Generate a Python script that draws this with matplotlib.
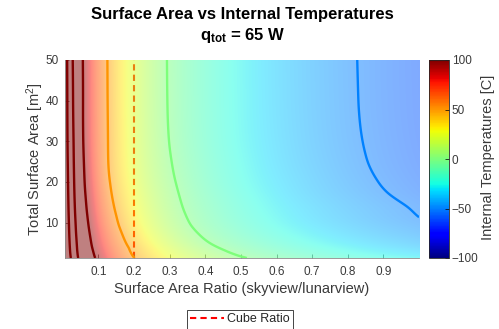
import numpy as np
import matplotlib
matplotlib.use('Agg')
import matplotlib.pyplot as plt
import matplotlib.tri as mtri
from matplotlib.colors import Normalize
from matplotlib.cm import ScalarMappable

plt.rcParams['font.family'] = ['Liberation Sans', 'DejaVu Sans']
plt.rcParams['mathtext.fontset'] = 'custom'
plt.rcParams['mathtext.rm'] = 'Liberation Sans'
plt.rcParams['mathtext.bf'] = 'Liberation Sans:bold'
plt.rcParams['mathtext.it'] = 'Liberation Sans:italic'

# ---------------- data ----------------
# surface area ratio (skyview / lunarview) -- columns
ratios = [0.006, 0.01, 0.015, 0.02, 0.03, 0.04, 0.05, 0.065, 0.08, 0.1, 0.125, 0.15,
          0.18, 0.22, 0.27, 0.33, 0.4, 0.5, 0.6, 0.7, 0.8, 0.9, 1.0]
# total surface area [m^2] -- rows
areas = [1.3, 2, 3, 4, 5.5, 7, 9, 11.5, 14, 17, 20, 25, 30, 40, 50]
# internal temperature [C] for each (area row, ratio column)
temps = [
    [321.1, 271.0, 234.3, 209.7, 177.1, 155.3, 139.4, 121.7, 108.2, 93.7, 79.1, 67.7, 56.6, 44.9, 33.5, 22.7, 12.7, 1.5, -6.6, -13.3, -18.9, -23.7, -28.0],
    [311.2, 263.6, 228.5, 205.0, 173.8, 152.9, 137.3, 119.7, 106.2, 91.7, 77.2, 65.7, 54.7, 42.9, 31.2, 20.3, 10.1, -1.1, -9.4, -16.3, -22.0, -27.0, -31.4],
    [302.7, 257.1, 223.5, 201.0, 170.9, 150.8, 135.1, 117.4, 103.9, 89.3, 75.0, 63.7, 52.8, 40.8, 28.8, 17.5, 7.1, -4.2, -12.7, -19.6, -25.5, -30.5, -35.0],
    [297.0, 252.8, 220.2, 198.3, 169.0, 149.3, 133.3, 115.3, 101.6, 87.0, 73.0, 61.9, 51.2, 38.8, 26.5, 14.9, 4.2, -7.0, -15.6, -22.6, -28.5, -33.7, -38.2],
    [290.8, 248.1, 216.4, 195.2, 166.7, 147.3, 131.1, 112.8, 98.9, 84.2, 70.2, 59.1, 48.1, 35.4, 23.0, 11.3, 0.5, -10.5, -19.1, -26.2, -32.2, -37.3, -41.9],
    [286.1, 244.3, 213.3, 192.5, 164.6, 145.2, 128.9, 110.5, 96.5, 81.8, 67.7, 56.7, 45.4, 32.7, 20.2, 8.4, -2.2, -13.3, -21.9, -29.0, -35.0, -40.2, -44.7],
    [281.3, 240.4, 210.2, 189.8, 162.5, 142.8, 126.2, 107.5, 93.3, 78.6, 64.5, 53.4, 41.9, 29.2, 16.8, 5.2, -5.1, -16.1, -24.8, -31.9, -37.9, -43.1, -47.6],
    [275.8, 236.0, 206.5, 186.6, 160.0, 139.9, 123.0, 104.1, 89.9, 75.2, 61.2, 50.2, 38.6, 26.2, 14.1, 2.7, -7.4, -18.5, -27.2, -34.4, -40.4, -45.6, -50.1],
    [271.0, 232.1, 203.3, 183.8, 157.7, 137.2, 120.2, 101.1, 87.0, 72.4, 58.5, 47.3, 35.9, 23.9, 12.0, 0.9, -9.0, -20.1, -28.8, -35.9, -41.9, -47.0, -51.5],
    [266.4, 228.5, 200.2, 181.2, 155.6, 134.4, 117.2, 98.1, 84.1, 69.6, 55.7, 44.5, 33.5, 21.7, 10.2, -0.7, -10.7, -21.9, -30.7, -38.0, -44.0, -49.2, -53.8],
    [262.7, 225.5, 197.7, 179.0, 153.9, 132.0, 114.7, 95.6, 81.7, 67.2, 53.4, 42.3, 31.4, 19.8, 8.5, -2.2, -12.3, -23.5, -32.2, -39.4, -45.5, -50.7, -55.3],
    [256.4, 220.6, 194.0, 175.9, 151.7, 129.1, 112.0, 93.1, 79.2, 64.9, 51.2, 40.1, 29.3, 17.8, 6.6, -4.1, -14.0, -25.1, -33.9, -41.0, -47.0, -52.2, -56.7],
    [251.5, 216.9, 191.0, 173.5, 150.0, 126.8, 109.7, 91.3, 77.9, 64.1, 50.8, 39.5, 28.5, 16.8, 5.4, -5.4, -15.2, -26.2, -34.8, -41.9, -47.8, -52.9, -57.4],
    [247.9, 213.8, 188.3, 171.1, 146.9, 124.9, 108.6, 90.6, 77.3, 63.5, 50.3, 38.8, 27.7, 16.0, 4.5, -6.2, -16.0, -26.9, -35.5, -42.5, -48.4, -53.5, -57.9],
    [245.3, 211.5, 186.3, 169.2, 144.7, 123.5, 107.8, 90.2, 76.9, 63.2, 50.0, 38.5, 27.5, 15.8, 4.3, -6.4, -16.2, -27.1, -35.7, -42.7, -48.6, -53.6, -58.1],
]
contour_levels = [-50, 0, 50, 100, 150, 200]
cube_ratio = 0.2
clim = (-100, 100)
cbar_ticks = [-100, -50, 0, 50, 100]
x_ticks = [0.1, 0.2, 0.3, 0.4, 0.5, 0.6, 0.7, 0.8, 0.9]
y_ticks = [10, 20, 30, 40, 50]

title_line1 = "Surface Area vs Internal Temperatures"
title_line2 = r"$\mathbf{q}_{\mathbf{tot}}$ = 65 W"
x_label = "Surface Area Ratio (skyview/lunarview)"
y_label = r"Total Surface Area [m$^{2}$]"
cbar_label = "Internal Temperatures [C]"
legend_label = "Cube Ratio"

# ---------------- figure ----------------
W, H = 499, 329
fig = plt.figure(figsize=(W / 100, H / 100), dpi=100)
ax = fig.add_axes([65 / W, 1 - 258 / H, (419 - 65) / W, (258 - 60) / H])
cax = fig.add_axes([429 / W, 1 - 258 / H, 20 / W, (258 - 60) / H])

norm = Normalize(vmin=clim[0], vmax=clim[1])
cmap = plt.get_cmap('jet')

# smooth field through matplotlib's cubic triangular interpolator (log-log space)
LX, LA = np.meshgrid(np.log(ratios), np.log(areas))
tri = mtri.Triangulation(LX.ravel(), LA.ravel())
interp = mtri.CubicTriInterpolator(tri, np.asarray(temps, float).ravel(), kind='min_E')

ylim = (areas[0], areas[-1])
xlim = (ratios[0], ratios[-1])
gx = np.linspace(xlim[0], xlim[1], 700)
gy = np.linspace(ylim[0], ylim[1], 450)
GX, GY = np.meshgrid(gx, gy)
eps = 1e-9
qx = np.clip(np.log(GX), np.log(ratios[0]) + eps, np.log(ratios[-1]) - eps)
qy = np.clip(np.log(GY), np.log(areas[0]) + eps, np.log(areas[-1]) - eps)
Z = interp(qx, qy)

# cube-ratio line (sits under the translucent surface, as in the reference)
cube_line, = ax.plot([cube_ratio, cube_ratio], [ylim[0], ylim[1]], color='red',
                     linestyle=(0, (3, 2)), linewidth=1.5, zorder=1)

ax.imshow(Z, extent=[gx[0], gx[-1], gy[0], gy[-1]], origin='lower', aspect='auto',
          cmap=cmap, norm=norm, alpha=0.5, interpolation='bilinear', zorder=2)
ax.contour(GX, GY, Z, levels=contour_levels, cmap=cmap, norm=norm,
           linewidths=1.7, zorder=3)

ax.set_xlim(*xlim)
ax.set_ylim(*ylim)
ax.set_xticks(x_ticks)
ax.set_xticklabels([f"{t:g}" for t in x_ticks])
ax.set_yticks(y_ticks)
for s in ['top', 'right']:
    ax.spines[s].set_visible(False)
for s in ['left', 'bottom']:
    ax.spines[s].set_color('#8a8a8a')
    ax.spines[s].set_linewidth(0.6)
    ax.spines[s].set_zorder(4)
ax.tick_params(direction='in', length=3, width=0.5, color='#555555',
               labelcolor='#3a3a3a', labelsize=8.5)
ax.tick_params(axis='x', pad=5.5)
ax.tick_params(axis='y', pad=4.5)

cb = fig.colorbar(ScalarMappable(norm=norm, cmap=cmap), cax=cax, ticks=cbar_ticks)
cb.outline.set_linewidth(0.6)
cb.outline.set_edgecolor('#262626')
cax.tick_params(direction='in', length=3, width=0.5, labelsize=8.5,
                labelcolor='#3a3a3a', pad=2)

txt = '#3a3a3a'
fig.text(242 / W, 1 - 19.5 / H, title_line1, ha='center', va='baseline',
         fontsize=12, fontweight='bold', color='black')
fig.text(243 / W, 1 - 40 / H, title_line2, ha='center', va='baseline',
         fontsize=12, fontweight='bold', color='black')
fig.text(242 / W, 1 - 293 / H, x_label, ha='center', va='baseline',
         fontsize=10.5, color=txt)
fig.text(35.5 / W, 1 - 159 / H, y_label, ha='center', va='center', rotation=90,
         fontsize=10.5, color=txt)
fig.text(488 / W, 1 - 157 / H, cbar_label, ha='center', va='center', rotation=90,
         fontsize=10.5, color=txt)

leg = fig.legend([cube_line], [legend_label], loc='center',
                 bbox_to_anchor=(240 / W, 1 - 319.5 / H), fontsize=9,
                 handlelength=2.7, handletextpad=0.25, borderpad=0.25,
                 borderaxespad=0, fancybox=False, framealpha=1)
leg.get_frame().set_edgecolor('#262626')
leg.get_frame().set_linewidth(0.6)
for t in leg.get_texts():
    t.set_color('#262626')

fig.savefig('out.png', dpi=100)
